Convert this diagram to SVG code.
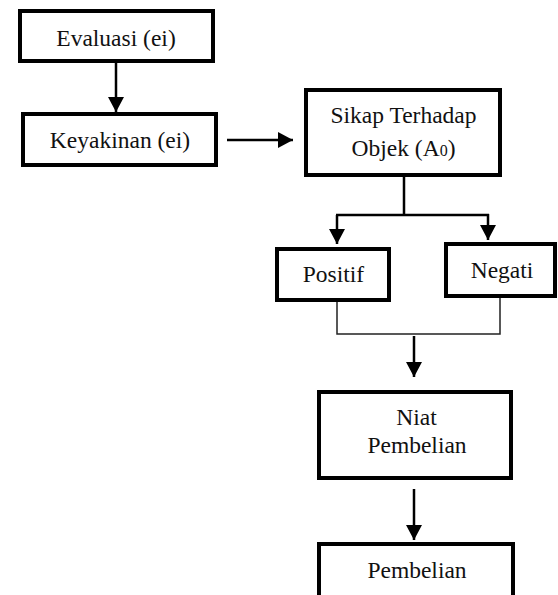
<svg xmlns="http://www.w3.org/2000/svg" width="558" height="595" viewBox="0 0 558 595">
<style>
.box{fill:#fff;stroke:#000;stroke-width:4}
.t{font-family:"Liberation Serif","Times New Roman",serif;font-size:23.5px;fill:#111;text-anchor:middle}
.c{fill:none;stroke:#000;stroke-width:2.5}
.b{fill:none;stroke:#222;stroke-width:1.5}
</style>
<defs>
<marker id="ah" markerUnits="userSpaceOnUse" markerWidth="15" markerHeight="16" refX="15" refY="8" orient="auto" viewBox="0 0 15 16">
<path d="M0,0 L15,8 L0,16 z" fill="#000"/>
</marker>
</defs>
<rect width="558" height="595" fill="#fff"/>
<g id="connectors">
<line class="c" x1="116" y1="63" x2="116" y2="112" marker-end="url(#ah)"/>
<line class="c" x1="227" y1="140" x2="293" y2="140" marker-end="url(#ah)"/>
<path class="c" d="M404,177 V215 M336,215 H489" stroke-width="2"/>
<line class="c" x1="337" y1="215" x2="337" y2="244" marker-end="url(#ah)"/>
<line class="c" x1="488" y1="214" x2="488" y2="240" marker-end="url(#ah)"/>
<path class="b" d="M337,302 V334 H500 V298"/>
<line class="c" x1="414" y1="336" x2="414" y2="377" marker-end="url(#ah)"/>
<line class="c" x1="414" y1="489" x2="414" y2="540" marker-end="url(#ah)"/>
</g>
<g id="evaluasi">
<rect class="box" x="20" y="11" width="193" height="50"/>
<text class="t" x="116" y="46">Evaluasi (ei)</text>
</g>
<g id="keyakinan">
<rect class="box" x="23" y="114" width="193" height="51"/>
<text class="t" x="120" y="148">Keyakinan (ei)</text>
</g>
<g id="sikap">
<rect class="box" x="306" y="90" width="194" height="85"/>
<text class="t" x="403.5" y="122.5">Sikap Terhadap</text>
<text class="t" x="403.5" y="155.5">Objek (A<tspan font-size="16px">0</tspan>)</text>
</g>
<g id="positif">
<rect class="box" x="277" y="249" width="112" height="51"/>
<text class="t" x="333.5" y="282">Positif</text>
</g>
<g id="negati">
<rect class="box" x="446" y="244" width="109" height="52"/>
<text class="t" x="502" y="278">Negati</text>
</g>
<g id="niat">
<rect class="box" x="319" y="392" width="192" height="86"/>
<text class="t" x="416.5" y="425">Niat</text>
<text class="t" x="417" y="453">Pembelian</text>
</g>
<g id="pembelian">
<rect class="box" x="319" y="544" width="194" height="70"/>
<text class="t" x="417" y="578">Pembelian</text>
</g>
</svg>
